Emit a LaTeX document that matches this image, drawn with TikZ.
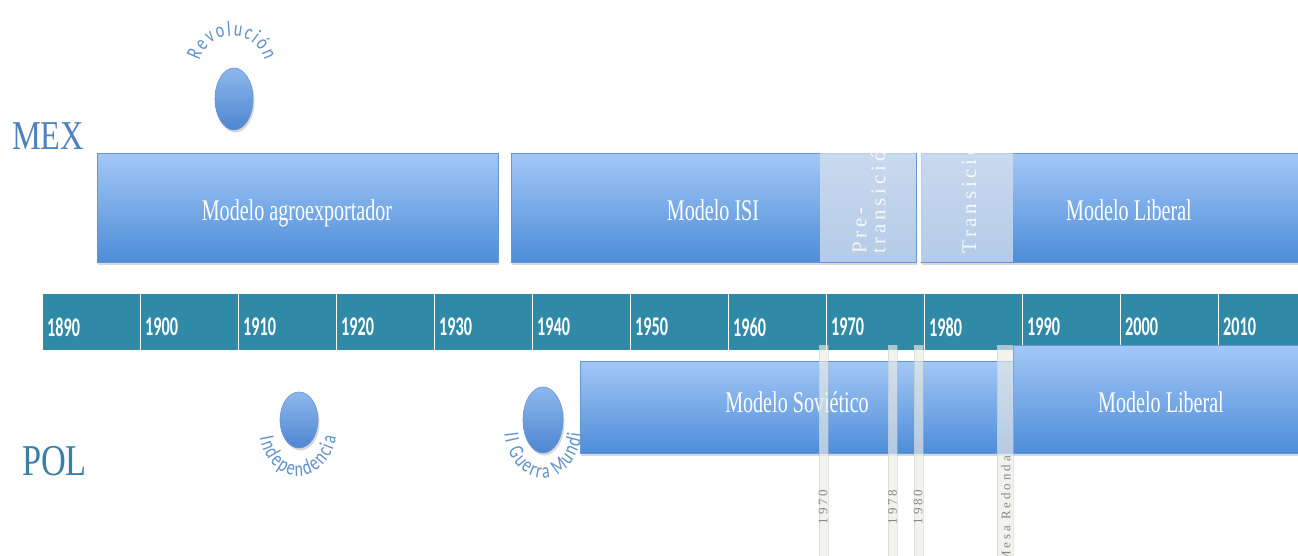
\documentclass[tikz,border=0pt]{standalone}
\usepackage{fontspec}
\setmainfont{Liberation Serif}
\newfontfamily\carl{Carlito}
\usetikzlibrary{shadows,decorations.text,shapes.geometric}
\definecolor{tl}{RGB}{47,138,168}
\definecolor{btop}{RGB}{163,199,246}
\definecolor{bbot}{RGB}{77,141,216}
\definecolor{bdr}{RGB}{100,150,210}
\definecolor{etop}{RGB}{141,184,238}
\definecolor{ebot}{RGB}{78,134,208}
\definecolor{mexc}{RGB}{79,129,189}
\definecolor{polc}{RGB}{58,127,166}
\definecolor{arcc}{RGB}{95,145,205}
\definecolor{ovc}{RGB}{215,224,236}
\definecolor{stripc}{RGB}{236,236,230}
\definecolor{stripd}{RGB}{190,190,180}
\definecolor{striptxt}{RGB}{135,135,135}
\newcommand\evtfont{\carl\fontsize{16}{16}\selectfont}
\tikzset{
 modelbox/.style={draw=bdr, line width=0.6pt, top color=btop, bottom color=bbot, anchor=north west, inner sep=0pt,
   drop shadow={opacity=0.3, shadow xshift=1pt, shadow yshift=-2.5pt}},
 boxtxt/.style={anchor=base, text=white, font=\fontsize{30}{30}\selectfont, inner sep=0pt},
 cell/.style={draw=white, line width=1.2pt, fill=tl, anchor=north west, minimum width=98pt, minimum height=57pt, inner sep=0pt},
 yearlbl/.style={anchor=west, text=white, font=\carl\bfseries\fontsize{27}{27}\selectfont, inner sep=0pt},
 evt/.style={ellipse, draw=bdr, line width=0.6pt, top color=etop, bottom color=ebot, inner sep=0pt,
   drop shadow={opacity=0.3, shadow xshift=1.5pt, shadow yshift=-2.5pt}},
 veil/.style={fill=ovc, fill opacity=0.75, anchor=north west, inner sep=0pt},
 vtxt/.style={rotate=90, text=white, text opacity=0.85, font=\fontsize{21}{19}\selectfont\addfontfeature{LetterSpace=18}, inner sep=0pt},
 strip/.style={fill=stripc, fill opacity=0.65, draw=stripd, draw opacity=0.4, line width=0.4pt, anchor=north west, inner sep=0pt},
 striplbl/.style={rotate=90, text=striptxt, font=\fontsize{13}{13}\selectfont\addfontfeature{LetterSpace=22}, inner sep=0pt},
 country/.style={anchor=base, inner sep=0pt},
 arctext/.style={decorate, decoration={text effects along path, text={#1}, text align=center,
   text effects/.cd, text along path, characters={text=arcc, font=\evtfont, yscale=1.35},
   character widths={font=\evtfont, inner xsep=0.9pt}}}
}
\begin{document}
\begin{tikzpicture}[x=1pt,y=1pt]
\useasboundingbox (0,0) rectangle (1298,-556);
\fill[white] (0,0) rectangle (1298,-556);

% country labels
\node[country, text=mexc, font=\fontsize{41}{41}\selectfont] (mex) at (48,-150) {\scalebox{0.79}[1]{MEX}};
\node[country, text=polc, font=\fontsize{44}{44}\selectfont] (pol) at (54.5,-475) {\scalebox{0.78}[1]{POL}};

% MEX model boxes
\node[modelbox, minimum width=401pt, minimum height=109pt] (agro) at (97,-153) {};
\node[boxtxt] (agrot) at (297,-220) {\scalebox{0.67}[1]{Modelo agroexportador}};
\node[modelbox, minimum width=405pt, minimum height=109pt] (isi) at (511,-153) {};
\node[boxtxt] (isit) at (713,-221) {\scalebox{0.67}[1]{Modelo ISI}};
\node[modelbox, minimum width=420pt, minimum height=109pt] (libm) at (921,-153) {};
\node[boxtxt] (libmt) at (1129,-221) {\scalebox{0.67}[1]{Modelo Liberal}};

% transition veils
\node[veil, minimum width=96pt, minimum height=109pt] (pre) at (820,-153) {};
\node[veil, minimum width=92pt, minimum height=109pt] (tra) at (921,-153) {};
\begin{scope}
\clip (pre.north west) rectangle (pre.south east);
\node[vtxt, anchor=west, align=left] (pret) at (869,-254) {Pre-\\transición};
\end{scope}
\begin{scope}
\clip (tra.north west) rectangle (tra.south east);
\node[vtxt, anchor=west] (trat) at (969,-254) {Transición};
\end{scope}

% timeline
\foreach \yr [count=\n from 0] in {1890,1900,...,2010}{
  \node[cell] (c\n) at ({42+98*\n},-293) {};
  \node[yearlbl] (y\n) at ([xshift=5pt,yshift=-5pt]c\n.west) {\scalebox{0.6}[1]{\yr}};
}

% POL model boxes
\node[modelbox, minimum width=433pt, minimum height=92pt] (sov) at (580,-361) {};
\node[boxtxt] (sovt) at (797,-412) {\scalebox{0.67}[1]{Modelo Soviético}};
\node[modelbox, minimum width=300pt, minimum height=108pt] (libp) at (1013,-345) {};
\node[boxtxt] (libpt) at (1161,-412) {\scalebox{0.67}[1]{Modelo Liberal}};

% vertical strips
\node[strip, minimum width=9pt, minimum height=211pt] (s1) at (819,-345) {};
\node[strip, minimum width=9pt, minimum height=211pt] (s2) at (888,-345) {};
\node[strip, minimum width=9pt, minimum height=211pt] (s3) at (914,-345) {};
\node[strip, minimum width=16pt, minimum height=211pt] (s4) at (997,-345) {};
\node[striplbl] (l1) at (823,-507) {1970};
\node[striplbl] (l2) at (892.5,-507) {1978};
\node[striplbl] (l3) at (918,-507) {1980};
\node[striplbl, anchor=east] (l4) at (1006,-456) {Mesa Redonda};

% events
\node[evt, minimum width=38pt, minimum height=62pt] (rev) at (234,-99) {};
\node[evt, minimum width=38pt, minimum height=56pt] (ind) at (299,-420) {};
\node[evt, minimum width=40pt, minimum height=66pt] (gm) at (543,-420) {};
\path[arctext={Revolución}]
  (232,-70) ++(180:34) arc[start angle=180, end angle=0, radius=34];
\path[arctext={Independencia}]
  (298,-428) ++(180:39 and 48) arc[start angle=180, end angle=360, x radius=39, y radius=48];
\path[arctext={II Guerra Mundi}]
  (543,-428) ++(178:39 and 50) arc[start angle=178, end angle=362, x radius=39, y radius=50];
\end{tikzpicture}
\end{document}
